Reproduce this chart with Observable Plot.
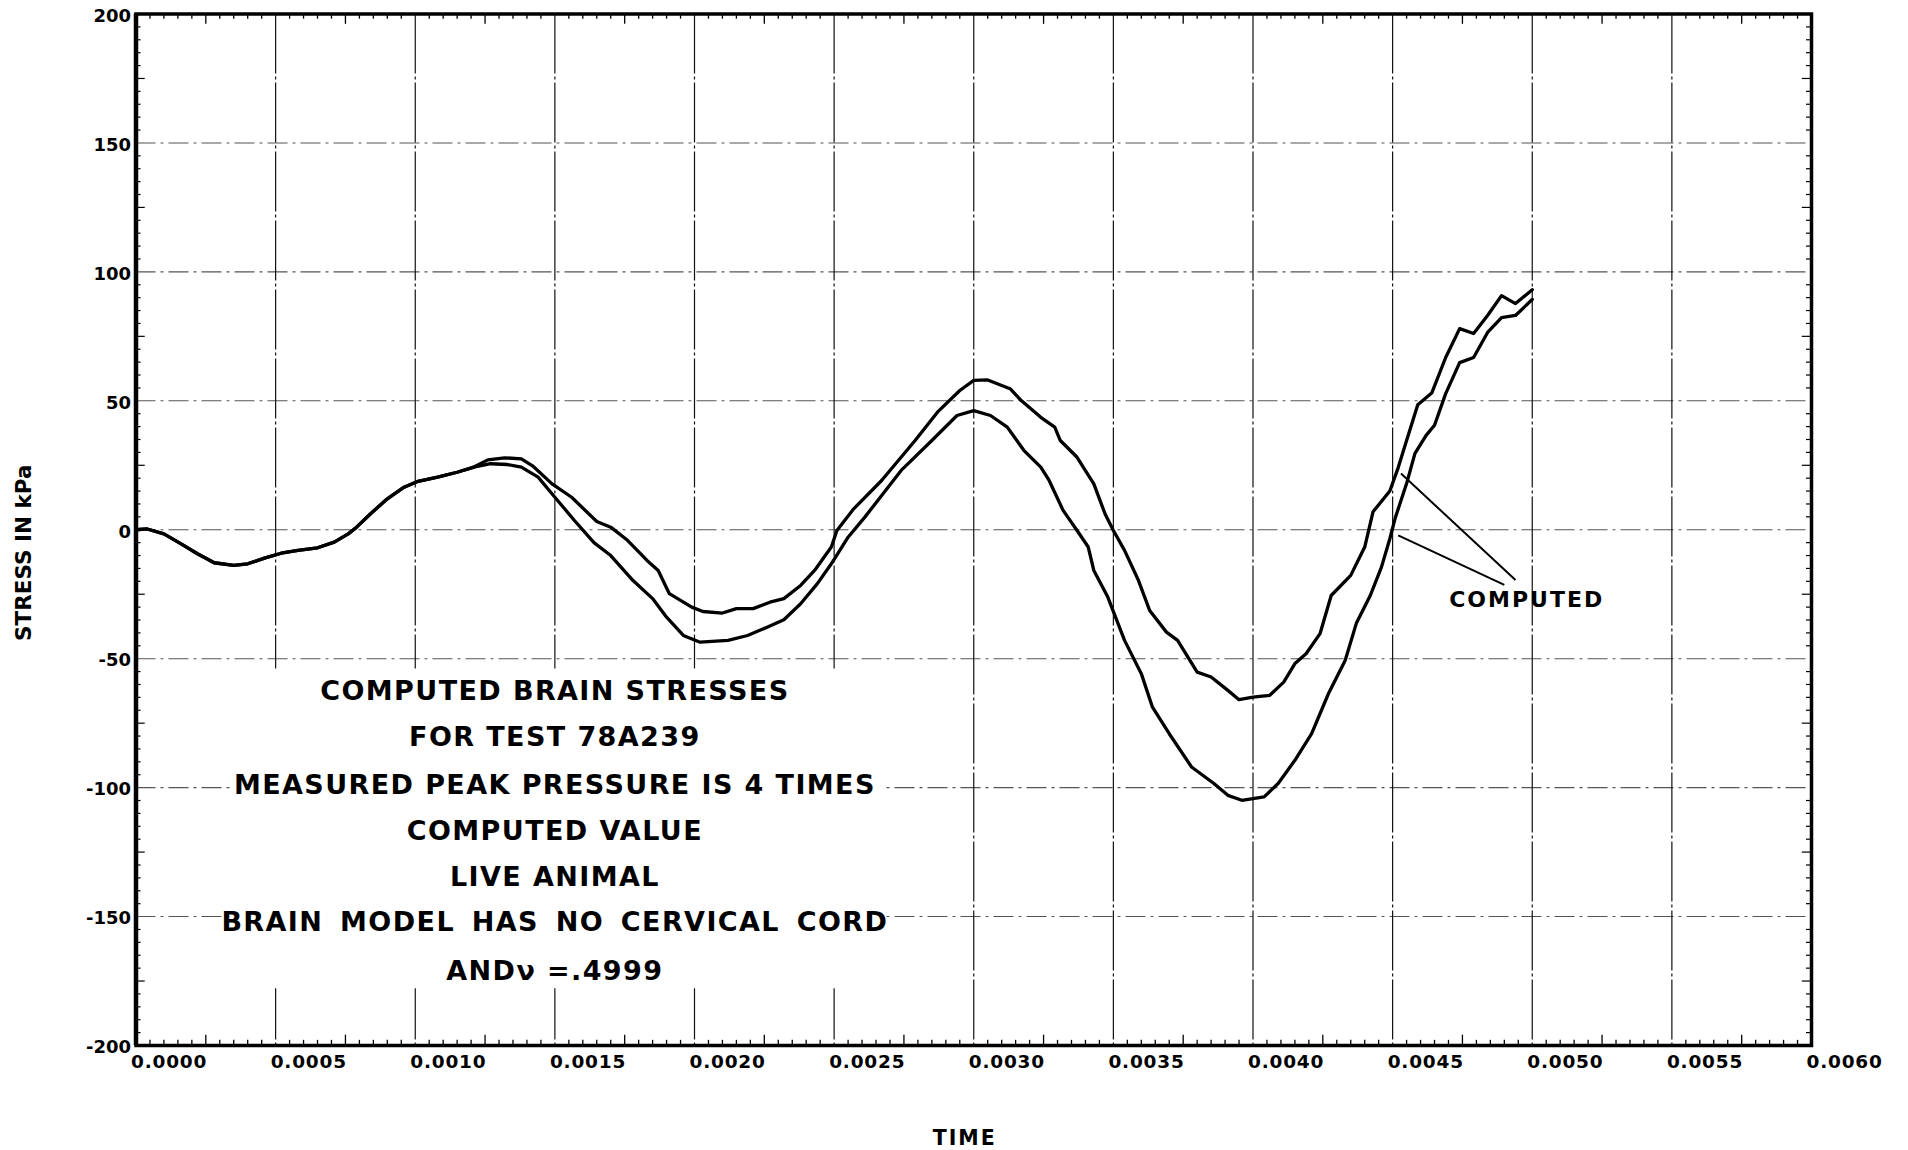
<!DOCTYPE html>
<html>
<head>
<meta charset="utf-8">
<script src="https://cdn.jsdelivr.net/npm/d3@7"></script>
<script src="https://cdn.jsdelivr.net/npm/@observablehq/plot@0.6"></script>
<style>
  html, body { margin: 0; padding: 0; background: #fff; }
  #chart { width: 1908px; height: 1150px; }
</style>
</head>
<body>
<div id="chart"></div>
<script>
// ---------------- data ----------------
// Curve A (upper peaks, shallower trough)
const timeA = [
  0, 0.00004, 0.00010, 0.00016, 0.00022, 0.00028, 0.00035, 0.00040, 0.00046, 0.00052,
  0.00058, 0.00065, 0.00071, 0.00076, 0.00079, 0.00084, 0.00090, 0.00096, 0.00101, 0.00108,
  0.00115, 0.00121,
  0.00126, 0.00132, 0.00138, 0.00142, 0.00149, 0.00156, 0.00165, 0.00170, 0.00176, 0.00183,
  0.00187, 0.00191, 0.00199, 0.00203, 0.00210, 0.00215, 0.00221, 0.00227, 0.00232, 0.00238,
  0.00243, 0.00249, 0.00251, 0.00257, 0.00267, 0.00279, 0.00287, 0.00295, 0.00300, 0.00305,
  0.00313, 0.00317, 0.00324, 0.00329, 0.00331, 0.00337, 0.00343, 0.00347, 0.00350, 0.00354,
  0.00359, 0.00363, 0.00369, 0.00373, 0.00380, 0.00385, 0.00391, 0.00395, 0.00400, 0.00406,
  0.00411, 0.00415, 0.00419, 0.00424, 0.00428, 0.00435, 0.00440, 0.00443, 0.00449, 0.00452,
  0.00455, 0.00459, 0.00464, 0.00469, 0.00474, 0.00479, 0.00484, 0.00489, 0.00494, 0.00500
];
const stressA = [
  0, 0.3, -1.6, -5.4, -9.3, -12.8, -13.8, -13.2, -11.0, -9.1,
  -8.0, -7.0, -4.8, -1.6, 1.0, 6.2, 12.0, 16.5, 18.8, 20.4,
  22.3, 24.3,
  27.1, 27.9, 27.5, 24.8, 17.8, 12.6, 3.2, 1.0, -4.1, -11.9,
  -15.8, -24.8, -30.0, -31.7, -32.3, -30.6, -30.6, -28.1, -26.7, -21.6,
  -15.8, -6.7, -0.3, 8.1, 19.1, 34.6, 45.6, 54.0, 57.9, 58.1,
  54.7, 50.1, 43.6, 39.8, 34.6, 28.1, 17.8, 6.2, -0.3, -8.0,
  -19.7, -31.3, -39.7, -42.9, -55.2, -57.1, -62.3, -65.9, -64.9, -64.2,
  -59.1, -51.9, -48.1, -40.3, -25.5, -17.7, -6.7, 7.0, 15.0, 24.1,
  34.6, 48.5, 53.0, 66.8, 78.0, 76.1, 83.1, 90.8, 87.7, 93.1
];
// Curve B (lower peaks, deeper trough)
const timeB = [
  0, 0.00004, 0.00010, 0.00016, 0.00022, 0.00028, 0.00035, 0.00040, 0.00046, 0.00052,
  0.00058, 0.00065, 0.00071, 0.00076, 0.00079, 0.00084, 0.00090, 0.00096, 0.00101, 0.00108,
  0.00115, 0.00121,
  0.00127, 0.00133, 0.00138, 0.00144, 0.00150, 0.00157, 0.00164, 0.00170, 0.00178, 0.00185,
  0.00190, 0.00196, 0.00202, 0.00212, 0.00219, 0.00226, 0.00232, 0.00238, 0.00244, 0.00249,
  0.00255, 0.00261, 0.00274, 0.00285, 0.00294, 0.00300, 0.00306, 0.00312, 0.00318, 0.00324,
  0.00327, 0.00332, 0.00337, 0.00341, 0.00343, 0.00348, 0.00354, 0.00360, 0.00364, 0.00370,
  0.00378, 0.00386, 0.00391, 0.00396, 0.00404, 0.00409, 0.00415, 0.00421, 0.00427, 0.00433,
  0.00437, 0.00442, 0.00446, 0.00449, 0.00451, 0.00455, 0.00458, 0.00462, 0.00465, 0.00469,
  0.00474, 0.00479, 0.00484, 0.00489, 0.00494, 0.00500
];
const stressB = [
  0, 0.3, -1.6, -5.4, -9.3, -12.8, -13.8, -13.2, -11.0, -9.1,
  -8.0, -7.0, -4.8, -1.6, 1.0, 6.2, 12.0, 16.5, 18.8, 20.4,
  22.3, 24.3,
  25.6, 25.3, 24.3, 20.4, 12.6, 3.6, -5.0, -10.0, -19.7, -26.7,
  -33.9, -41.0, -43.6, -42.9, -41.0, -37.8, -34.9, -28.7, -20.9, -13.2,
  -2.9, 4.9, 23.0, 34.6, 44.3, 46.2, 44.3, 39.8, 30.7, 24.3,
  19.1, 7.5, -0.3, -6.7, -15.8, -26.1, -42.9, -55.8, -68.8, -79.1,
  -92.0, -98.4, -103.0, -104.9, -103.6, -98.4, -89.4, -79.1, -63.6, -50.7,
  -36.3, -25.5, -14.5, -3.5, 4.8, 17.9, 29.6, 36.6, 40.5, 52.8,
  64.8, 66.8, 76.5, 82.3, 83.1, 89.3
];

// axis ticks
const xTicks = [0, 0.0005, 0.0010, 0.0015, 0.0020, 0.0025, 0.0030, 0.0035, 0.0040, 0.0045, 0.0050, 0.0055, 0.0060];
const yTicks = [-200, -150, -100, -50, 0, 50, 100, 150, 200];

// texts
const noteLines = [
  "COMPUTED BRAIN STRESSES",
  "FOR TEST 78A239",
  "MEASURED PEAK PRESSURE IS 4 TIMES",
  "COMPUTED VALUE",
  "LIVE ANIMAL",
  "BRAIN MODEL HAS NO CERVICAL CORD",
  "AND\u03BD =.4999"
];
const xLabel = "TIME";
const yLabel = "STRESS IN kPa";
const calloutLabel = "COMPUTED";

// annotation anchors (data units)
const noteTime = 0.0015;
const noteStress = [-62.7, -80.5, -99.0, -116.9, -134.8, -152.2, -171.2];
const calloutTime = 0.00498, calloutStress = -27.4;
const leaderFromT = [0.00494, 0.00490], leaderFromS = [-19.5, -21.4];
const leaderToT = [0.00453, 0.00452], leaderToS = [21.8, -2.2];

// ---------------- build tables ----------------
const seriesA = timeA.map((t, i) => ({t, v: stressA[i]}));
const seriesB = timeB.map((t, i) => ({t, v: stressB[i]}));
const leaders = leaderFromT.map((t, i) => ({x1: t, y1: leaderFromS[i], x2: leaderToT[i], y2: leaderToS[i]}));

const xMinor = d3.range(0, 121).filter(i => i % 10 !== 0).map(i => ({t: i * 0.00005, mid: i % 5 === 0}));
const yMinor = d3.range(-40, 41).filter(i => i % 10 !== 0).map(i => ({v: i * 5, mid: i % 5 === 0}));

const FONT = "'DejaVu Sans', 'Liberation Sans', sans-serif";
const fmtX = d3.format(".4f");

const plot = Plot.plot({
  width: 1908,
  height: 1150,
  marginLeft: 135.5,
  marginRight: 97,
  marginTop: 13.5,
  marginBottom: 105,
  x: {domain: [0, 0.006], axis: null},
  y: {domain: [-200, 200], axis: null},
  style: {background: "#fff", fontFamily: FONT, overflow: "visible"},
  marks: [
    // grid
    Plot.ruleY(yTicks.filter(d => d > -200 && d < 200), {stroke: "#555", strokeWidth: 1.1, strokeDasharray: "20,5,3,5"}),
    Plot.ruleX(xTicks.filter(d => d > 0 && d < 0.006), {stroke: "#111", strokeWidth: 1.2, strokeDasharray: "60,3,3,3"}),
    // white panel behind the notes
    Plot.rect([0], {x1: 0.00034, x2: 0.00268, y1: -54, y2: -178, fill: "#fff"}),
    // minor ticks
    Plot.ruleX(xMinor, {x: "t", y1: -200, y2: d => d.mid ? -196 : -198, stroke: "#000", strokeWidth: 1.3}),
    Plot.ruleX(xMinor, {x: "t", y1: 200, y2: d => d.mid ? 196 : 198, stroke: "#000", strokeWidth: 1.3}),
    Plot.ruleY(yMinor, {y: "v", x1: 0, x2: d => d.mid ? 0.000033 : 0.000018, stroke: "#000", strokeWidth: 1.2}),
    Plot.ruleY(yMinor, {y: "v", x1: 0.006, x2: d => d.mid ? 0.006 - 0.000033 : 0.006 - 0.000018, stroke: "#000", strokeWidth: 1.2}),
    // frame
    Plot.frame({stroke: "#000", strokeWidth: 3.5}),
    Plot.ruleX([0], {stroke: "#000", strokeWidth: 4.5}),
    // curves
    Plot.line(seriesA, {x: "t", y: "v", stroke: "#000", strokeWidth: 3.3, strokeLinejoin: "round"}),
    Plot.line(seriesB, {x: "t", y: "v", stroke: "#000", strokeWidth: 3.3, strokeLinejoin: "round"}),
    // callout
    Plot.link(leaders, {x1: "x1", y1: "y1", x2: "x2", y2: "y2", stroke: "#000", strokeWidth: 2}),
    Plot.text([calloutLabel], {x: calloutTime, y: calloutStress, fontSize: 22, fontWeight: "bold", fontFamily: FONT, fill: "#000", lineAnchor: "middle"}),
    // notes
    Plot.text(noteLines, {x: noteTime, y: (d, i) => noteStress[i], fontSize: 27, fontWeight: "bold", fontFamily: FONT, fill: "#000", lineAnchor: "middle"}),
    // tick labels
    Plot.text(xTicks, {x: d => d, y: -200, text: d => fmtX(d), dy: 17, dx: -5, textAnchor: "start", lineAnchor: "middle", fontSize: 18.5, fontWeight: "bold", fontFamily: FONT, fill: "#000"}),
    Plot.text(yTicks, {x: 0, y: d => d, text: d => String(d), dx: -5, dy: 2, textAnchor: "end", lineAnchor: "middle", fontSize: 18, fontWeight: "bold", fontFamily: FONT, fill: "#000"}),
    // axis titles
    Plot.text([xLabel], {frameAnchor: "bottom", dx: -9, dy: 92.5, textAnchor: "middle", lineAnchor: "middle", fontSize: 20.5, fontWeight: "bold", fontFamily: FONT, fill: "#000"}),
    Plot.text([yLabel], {frameAnchor: "left", dx: -111.5, dy: 23, rotate: -90, textAnchor: "middle", lineAnchor: "middle", fontSize: 21.5, fontWeight: "bold", fontFamily: FONT, fill: "#000"})
  ]
});

// letter spacing tweaks (style only)
d3.select(plot).selectAll("text").each(function () {
  const s = this.textContent;
  if (noteLines.includes(s)) {
    this.style.letterSpacing = "1.4px";
    if (s === noteLines[5]) this.style.wordSpacing = "6px";
  } else if (s === calloutLabel || s === xLabel) {
    this.style.letterSpacing = "2px";
  } else if (/^0\.\d{4}$/.test(s)) {
    this.style.letterSpacing = "0.8px";
  }
});

document.getElementById("chart").appendChild(plot);
</script>
</body>
</html>
